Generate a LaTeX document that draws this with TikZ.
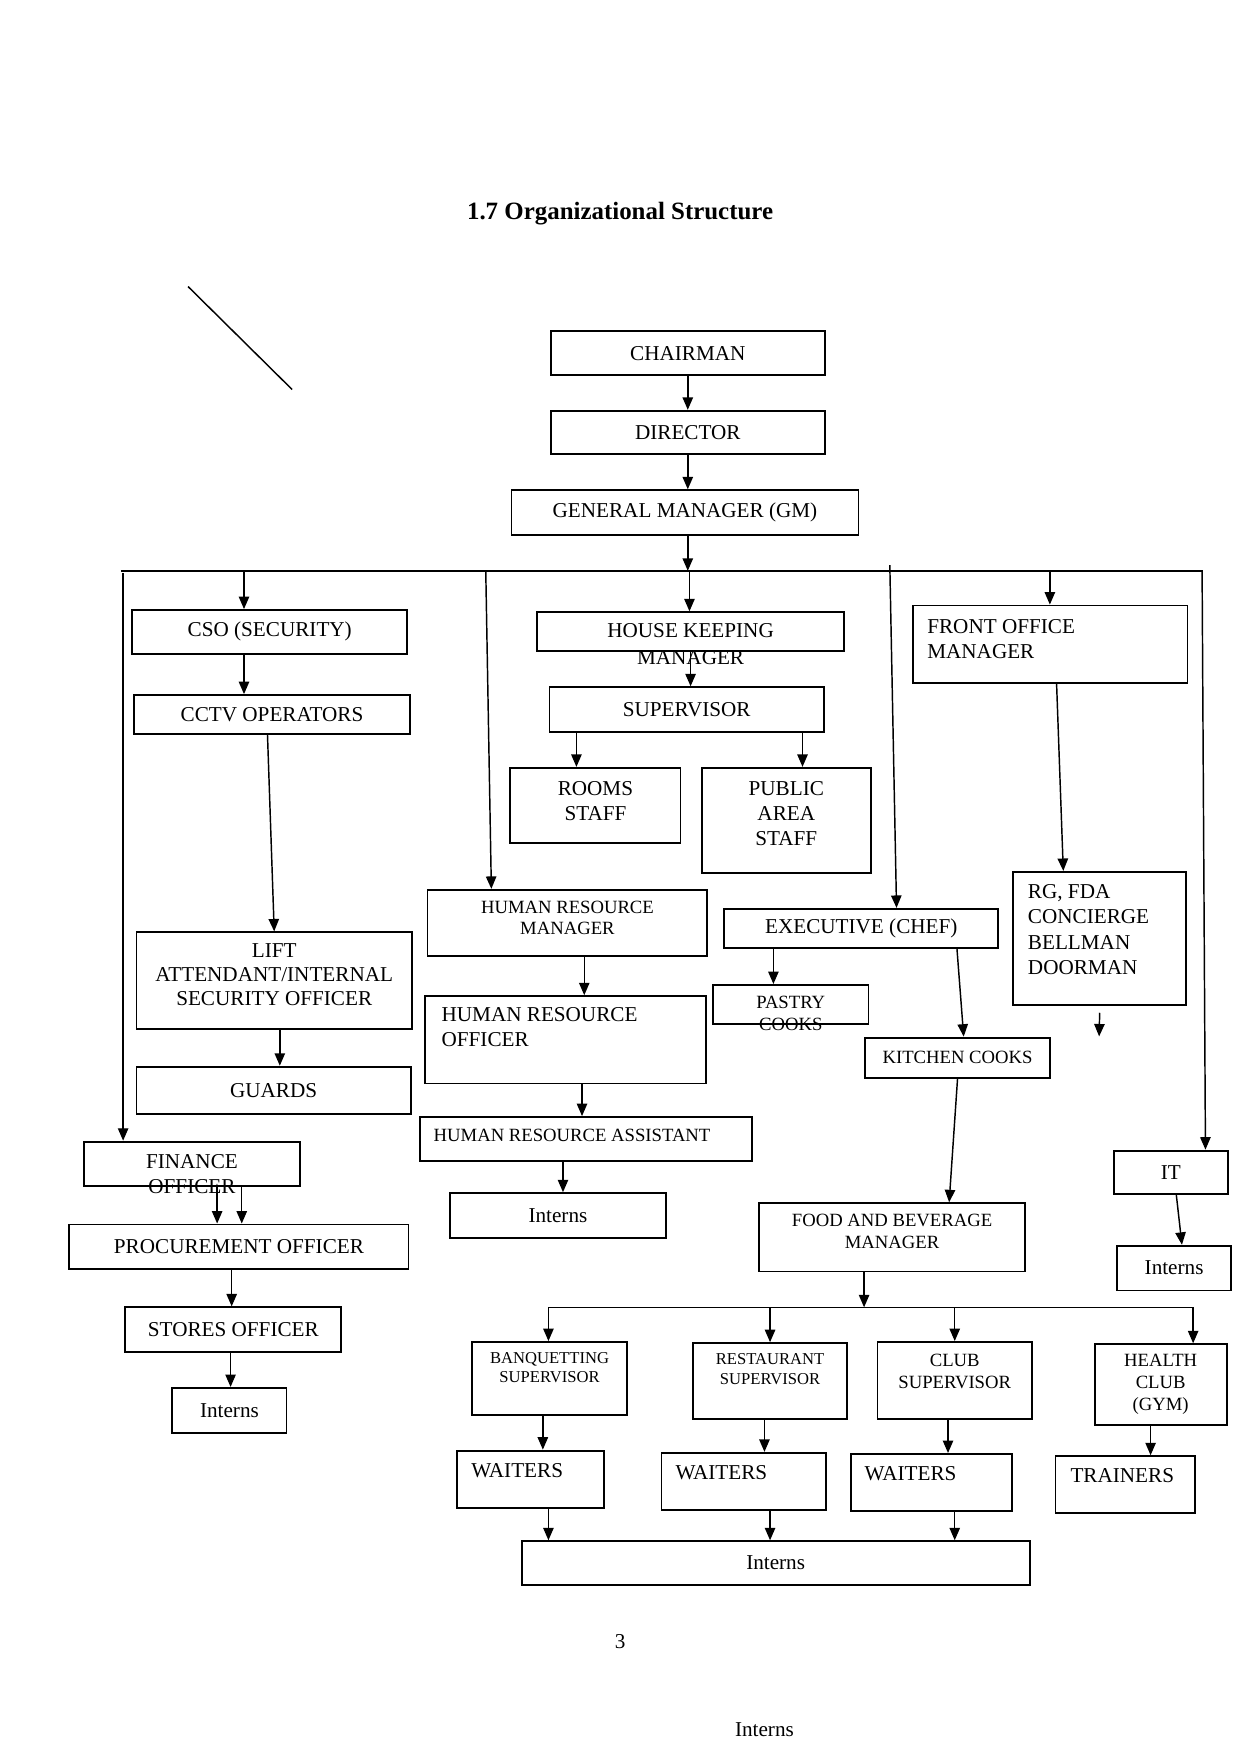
\documentclass[tikz,border=0pt]{standalone}
\usepackage{fontspec}
\setmainfont{Liberation Serif}
\usetikzlibrary{positioning,arrows.meta,calc}
\newcommand{\px}{0.018953cm}

\begin{document}
\begin{tikzpicture}[x=0.018953cm, y=-0.018953cm, >={Triangle[length=6pt,width=5pt]},
    box/.style={draw, line width=0.9pt, inner sep=1pt, align=center, font=\fontsize{10.2}{11.9}\selectfont},
    sbox/.style={box, font=\fontsize{9}{10.3}\selectfont},
    txt/.style={inner sep=0pt, align=left, font=\fontsize{10.2}{12}\selectfont},
    stxt/.style={txt, font=\fontsize{9}{10.3}\selectfont},
    ttxt/.style={txt, align=center, font=\fontsize{8}{9.3}\selectfont},
    wh/.style 2 args={minimum width=#1*\px, minimum height=#2*\px},
    line/.style={line width=0.7pt},
    arr/.style={->, line width=0.7pt}]

\useasboundingbox (0,0) rectangle (1108,1568);

% === Heading and stray marks ===
\node[font=\fontsize{12}{14}\selectfont\bfseries] (title) at (554,191) {1.7 Organizational Structure};
\draw[line] (168,256) -- (261,348);

% === Top of the chart ===
\node[box, wh={245}{39}] (chair) at (614.5,315.5) {CHAIRMAN};
\node[box, wh={245}{39}] (dir)   at (614.5,386.5) {DIRECTOR};
\node[box, wh={310}{40}] (gm)    at (612,458)     {GENERAL MANAGER (GM)};

% === Security branch ===
\node[box, wh={246}{39}] (cso)    at (241,564.5) {CSO (SECURITY)};
\node[box, wh={246}{35}] (cctv)   at (243,638.5) {CCTV OPERATORS};
\node[box, wh={246}{86}] (lift)   at (245,876)   {};
\node[txt, align=center, font=\fontsize{10.2}{11.6}\selectfont, below=5.7pt of lift.north] (liftT) {LIFT\\ATTENDANT/INTERNAL\\SECURITY OFFICER};
\node[box, wh={245}{42}] (guards) at (244.5,974) {GUARDS};

% === Finance branch ===
\node[box, wh={193}{40}] (fin) at (171.5,1040) {};
\node[txt, align=center, below=6.3pt of fin.north] (finT) {FINANCE\\OFFICER};
\node[box, wh={303}{40}] (proc)   at (213.5,1114) {PROCUREMENT OFFICER};
\node[box, wh={193}{40}] (stores) at (208.5,1188) {STORES OFFICER};
\node[box, wh={102}{40}] (intL)   at (205,1260)   {Interns};

% === House keeping branch ===
\node[box, wh={274}{35}] (hk) at (617,564.5) {};
\node[txt, align=center, font=\fontsize{10.2}{13}\selectfont, below=5.7pt of hk.north] (hkT) {HOUSE KEEPING\\MANAGER};
\node[box, wh={245}{40}] (sup)    at (613.5,634) {SUPERVISOR};
\node[box, wh={152}{67}] (rooms)  at (532,719.5) {};
\node[txt, align=center, below=6.8pt of rooms.north] (roomsT) {ROOMS\\STAFF};
\node[box, wh={151}{94}] (public) at (702.5,733) {};
\node[txt, align=center, below=6.8pt of public.north] (publicT) {PUBLIC\\AREA\\STAFF};

% === Human resource branch ===
\node[box, wh={250}{59}] (hrm) at (507,824.5) {};
\node[stxt, align=center, below=5.7pt of hrm.north] (hrmT) {HUMAN RESOURCE\\MANAGER};
\node[box, wh={251}{78}] (hro) at (505.5,929) {};
\node[txt, below right=5.7pt and 8.1pt of hro.north west] (hroT) {HUMAN RESOURCE\\OFFICER};
\node[box, wh={297}{39}] (hra) at (523.5,1017.5) {};
\node[stxt, below right=6.2pt and 7pt of hra.north west] (hraT) {HUMAN RESOURCE ASSISTANT};
\node[box, wh={193}{40}] (intM) at (498.5,1086) {Interns};

% === Front office branch ===
\node[box, wh={245}{69}] (fom) at (938.5,575.5) {};
\node[txt, below right=6.8pt and 7pt of fom.north west] (fomT) {FRONT OFFICE\\MANAGER};
\node[box, wh={155}{119}] (rg) at (982.5,838.5) {};
\node[txt, font=\fontsize{10.2}{12.2}\selectfont, below right=6.3pt and 7.5pt of rg.north west] (rgT) {RG, FDA\\CONCIERGE\\BELLMAN\\DOORMAN};
\coordinate (rgEnd) at (982,926);

% === Kitchen branch ===
\node[box, wh={245}{35}] (chef) at (769.5,829.5) {EXECUTIVE (CHEF)};
\node[box, wh={139}{35}] (pastry) at (706.5,897.5) {};
\node[stxt, align=center, below=5.7pt of pastry.north] (pastryT) {PASTRY\\COOKS};
\node[sbox, wh={165}{36}] (kitchen) at (855.5,945)  {KITCHEN COOKS};
\node[box, wh={238}{61}] (fb) at (797,1105.5) {};
\node[stxt, align=center, below=5.7pt of fb.north] (fbT) {FOOD AND BEVERAGE\\MANAGER};

% === IT branch ===
\node[box, wh={102}{39}] (it)   at (1046,1047.5) {IT};
\node[box, wh={102}{40}] (intR) at (1049,1133)   {Interns};

% === Food and beverage sections ===
\node[box, wh={138}{65}] (banq) at (491,1231.5) {};
\node[ttxt, below=5.4pt of banq.north] (banqT) {BANQUETTING\\SUPERVISOR};
\node[box, wh={138}{68}] (rest) at (688,1234) {};
\node[ttxt, below=5.4pt of rest.north] (restT) {RESTAURANT\\SUPERVISOR};
\node[box, wh={138}{69}] (club) at (853,1233.5) {};
\node[stxt, align=center, below=6.2pt of club.north] (clubT) {CLUB\\SUPERVISOR};
\node[box, wh={118}{72}] (health) at (1037,1237) {};
\node[stxt, align=center, font=\fontsize{9}{10.5}\selectfont, below=5.1pt of health.north] (healthT) {HEALTH\\CLUB\\(GYM)};

\node[box, wh={132}{51}] (w1) at (474,1321.5) {};
\node[txt, below right=6.3pt and 7.3pt of w1.north west] (w1T) {WAITERS};
\node[box, wh={147}{51}] (w2) at (664.5,1323.5) {};
\node[txt, below right=6.3pt and 7pt of w2.north west] (w2T) {WAITERS};
\node[box, wh={144}{51}] (w3) at (832,1324.5) {};
\node[txt, below right=6.3pt and 7pt of w3.north west] (w3T) {WAITERS};
\node[box, wh={125}{51}] (trainers) at (1005.5,1326.5) {};
\node[txt, below right=6.3pt and 7.5pt of trainers.north west] (trainersT) {TRAINERS};
\node[box, wh={454}{39}] (intB) at (693,1396.5) {Interns};

% === Footer ===
\node[font=\fontsize{10.2}{12}\selectfont] (pgno) at (554,1467) {3};
\node[font=\fontsize{10.2}{12}\selectfont] (intX) at (683,1545) {Interns};

% === Buses ===
\coordinate (busL) at (108,510);
\coordinate (busR) at (1075,510);
\coordinate (tFin) at (110,512);
\coordinate (tCso) at (218,510);
\coordinate (tHrm) at (434,510);
\coordinate (tHk)  at (616,510);
\coordinate (tChef) at (795,505);
\coordinate (tFom) at (938,510);
\coordinate (tIt)  at (1074,510);
\draw[line] (busL) -- (busR);

\coordinate (fbL)  at (490,1168);
\coordinate (fbR)  at (1066,1168);
\coordinate (tFb)  at (772,1168);
\coordinate (tRest) at (688,1168);
\coordinate (tClub) at (853,1168);
\draw[line] (fbL) -- (fbR);

% === Edges ===
% top chain
\draw[arr] (chair) -- (dir);
\draw[arr] (dir.south) -- (dir.south |- gm.north);
\draw[arr] (dir.south |- gm.south) -- (dir.south |- busL);
% from the bus
\draw[arr] (tFin) -- (tFin |- fin.north);
\draw[arr] (tCso) -- (tCso |- cso.north);
\draw[arr] (tHrm) -- ($(hrm.north)+(-68,0)$);
\draw[arr] (tHk)  -- (tHk |- hk.north);
\draw[arr] (tChef) -- ($(chef.north)+(31.5,0)$);
\draw[arr] (tFom) -- (tFom |- fom.north);
\draw[arr] (tIt)  -- ($(it.north)+(31,0)$);
% security
\draw[arr] (tCso |- cso.south) -- (tCso |- cctv.north);
\draw[arr] ($(cctv.south)+(-4,0)$) -- (lift.north);
\draw[arr] ($(lift.south)+(5,0)$) -- ($(guards.north)+(5.5,0)$);
% finance
\draw[arr] ($(fin.south)+(22.5,0)$) -- ($(proc.north)+(-19.5,0)$);
\draw[arr] ($(fin.south)+(44.5,0)$) -- ($(proc.north)+(2.5,0)$);
\draw[arr] ($(proc.south)+(-6.5,0)$) -- ($(stores.north)+(-1.5,0)$);
\draw[arr] ($(stores.south)+(-2.5,0)$) -- ($(intL.north)+(1,0)$);
% house keeping
\draw[arr] (hk.south) -- ($(sup.north)+(3.5,0)$);
\draw[arr] ($(sup.south)+(-98.5,0)$) -- ($(rooms.north)+(-17,0)$);
\draw[arr] ($(sup.south)+(103.5,0)$) -- ($(public.north)+(14.5,0)$);
% human resource
\draw[arr] ($(hrm.south)+(15,0)$) -- ($(hro.north)+(16.5,0)$);
\draw[arr] ($(hro.south)+(14.5,0)$) -- ($(hra.north)+(-3.5,0)$);
\draw[arr] ($(hra.south)+(-20.5,0)$) -- ($(intM.north)+(4.5,0)$);
% front office
\draw[arr] ($(fom.south)+(5.5,0)$) -- ($(rg.north)+(-32.5,0)$);
\draw[arr] ($(rg.south)+(0,6)$) -- (rgEnd);
% kitchen
\draw[arr] ($(chef.south)+(-78.5,0)$) -- ($(pastry.north)+(-15.5,0)$);
\draw[arr] ($(chef.south)+(85.5,0)$) -- ($(kitchen.north)+(5.5,0)$);
\draw[arr] (kitchen.south) -- ($(fb.north)+(51,0)$);
% IT
\draw[arr] ($(it.south)+(5,0)$) -- ($(intR.north)+(7,0)$);
% food and beverage
\draw[arr] (tFb |- fb.south) -- (tFb);
\draw[arr] (fbL) -- (fbL |- banq.north);
\draw[arr] (tRest) -- (tRest |- rest.north);
\draw[arr] (tClub) -- (tClub |- club.north);
\draw[arr] (fbR) -- (fbR |- health.north);
\draw[arr] ($(banq.south)+(-6,0)$) -- ($(w1.north)+(11,0)$);
\draw[arr] ($(rest.south)+(-5,0)$) -- ($(w2.north)+(18.5,0)$);
\draw[arr] ($(club.south)+(-6,0)$) -- ($(w3.north)+(15,0)$);
\draw[arr] ($(health.south)+(-9,0)$) -- ($(trainers.north)+(22.5,0)$);
\draw[arr] ($(w1.south)+(16,0)$) -- ($(intB.north)+(-203,0)$);
\draw[arr] ($(w2.south)+(23.5,0)$) -- ($(intB.north)+(-5,0)$);
\draw[arr] ($(w3.south)+(21,0)$) -- ($(intB.north)+(160,0)$);

\end{tikzpicture}
\end{document}
